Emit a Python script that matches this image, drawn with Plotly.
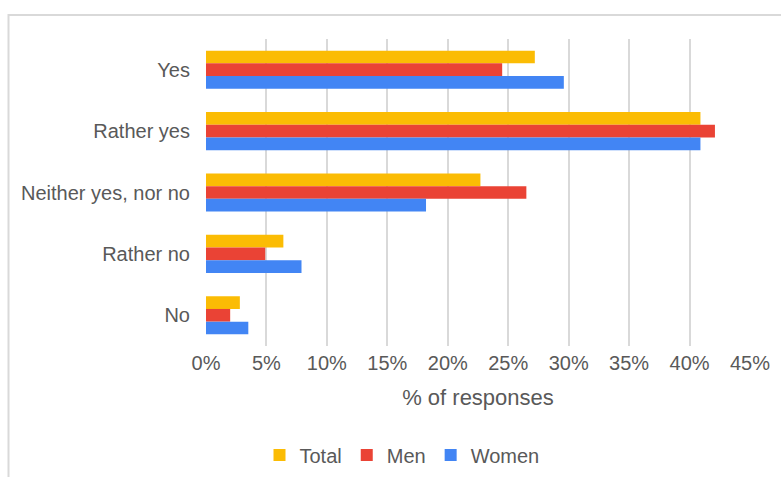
import plotly.graph_objects as go

categories = ["Yes", "Rather yes", "Neither yes, nor no", "Rather no", "No"]
total = [27.2, 40.9, 22.7, 6.4, 2.8]
men = [24.5, 42.1, 26.5, 4.9, 2.0]
women = [29.6, 40.9, 18.2, 7.9, 3.5]
tick_vals = [0, 5, 10, 15, 20, 25, 30, 35, 40, 45]
tick_text = [f"{v}%" for v in tick_vals]

series = [("Total", total, "#FBBC04"), ("Men", men, "#EA4335"), ("Women", women, "#4285F4")]

fig = go.Figure()
for name, vals, color in series:
    fig.add_trace(go.Bar(
        name=name, y=categories, x=vals, orientation="h",
        marker=dict(color=color, line=dict(width=0)),
    ))

W, H = 781, 477
L, R, T, B = 206, 31, 39, 131
pw = W - L - R
ph = H - T - B

def px_x(p):
    return (p - L) / pw

def px_y(p):
    return (H - B - p) / ph

txt = "#595959"
fig.update_layout(
    width=W, height=H,
    margin=dict(l=L, r=R, t=T, b=B, pad=0, autoexpand=False),
    barmode="group", bargap=0.38, bargroupgap=0,
    plot_bgcolor="white", paper_bgcolor="white",
    font=dict(family="Liberation Sans, Arial, sans-serif", size=20, color=txt),
    showlegend=True,
    legend=dict(orientation="h", x=px_x(402), xanchor="center", y=px_y(455), yanchor="middle",
                font=dict(size=20, color=txt), itemwidth=30, traceorder="normal",
                bgcolor="rgba(0,0,0,0)"),
    xaxis=dict(range=[0, 45], tickvals=tick_vals, ticktext=tick_text,
               showgrid=True, gridcolor="#d9d9d9", gridwidth=1.5,
               zeroline=False, showline=False, ticks="", ticklabelstandoff=3,
               title=dict(text="% of responses", font=dict(size=22, color=txt), standoff=16),
               fixedrange=True, automargin=False),
    yaxis=dict(categoryorder="array", categoryarray=categories, autorange="reversed",
               showgrid=False, zeroline=False, showline=False, ticks="",
               ticklabelstandoff=15, fixedrange=True, automargin=False),
    shapes=[dict(type="rect", xref="paper", yref="paper",
                 x0=px_x(8.5), x1=px_x(800), y0=px_y(520), y1=px_y(15),
                 line=dict(color="#d9d9d9", width=2), fillcolor="rgba(0,0,0,0)", layer="below")],
)

fig.write_html("out.html")
